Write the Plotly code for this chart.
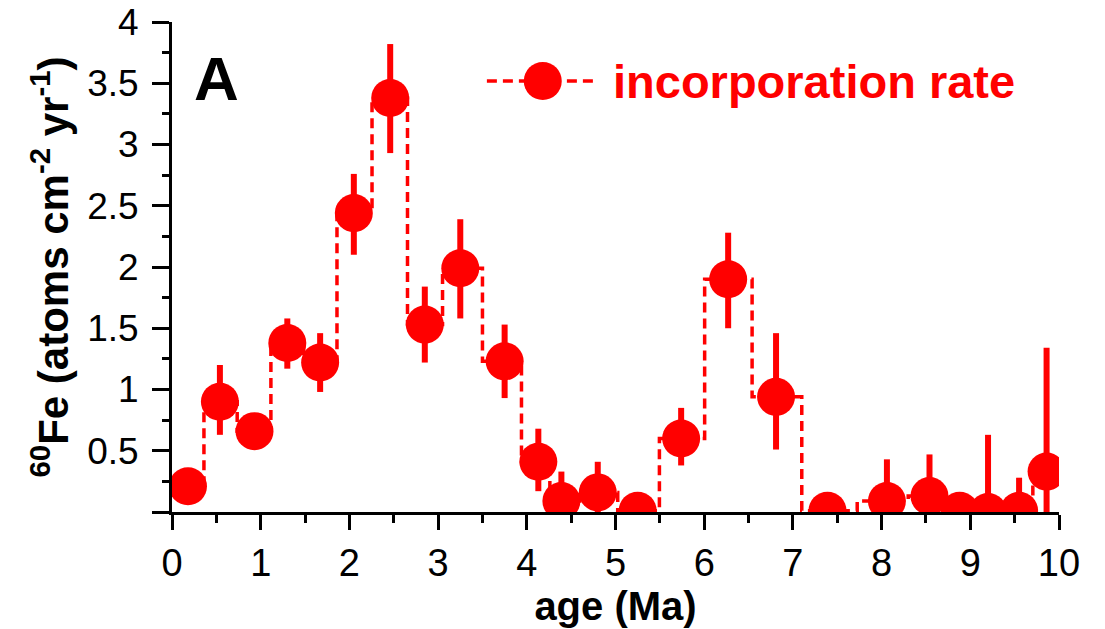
import plotly.graph_objects as go

# ---- data ----
age = [0.18, 0.54, 0.93, 1.30, 1.67, 2.05, 2.46, 2.85, 3.25, 3.75, 4.13, 4.39,
       4.80, 5.25, 5.74, 6.27, 6.81, 7.39, 8.06, 8.54, 8.88, 9.20, 9.55, 9.86]
rate = [0.21, 0.90, 0.66, 1.38, 1.22, 2.44, 3.38, 1.53, 1.99, 1.23, 0.41, 0.09,
        0.16, 0.01, 0.60, 1.90, 0.94, 0.01, 0.09, 0.13, 0.01, 0.00, 0.01, 0.33]
err_plus = [0.05, 0.30, 0.06, 0.20, 0.24, 0.32, 0.44, 0.31, 0.40, 0.30, 0.27, 0.24,
            0.25, 0.05, 0.25, 0.38, 0.52, 0.05, 0.34, 0.34, 0.05, 0.63, 0.27, 1.01]
err_minus = [0.05, 0.27, 0.06, 0.21, 0.24, 0.34, 0.45, 0.31, 0.41, 0.30, 0.24, 0.09,
             0.16, 0.01, 0.22, 0.40, 0.43, 0.01, 0.09, 0.13, 0.01, 0.00, 0.01, 0.33]

x_ticks = list(range(0, 11))
x_ticklabels = [str(v) for v in x_ticks]
y_ticks = [0, 0.5, 1, 1.5, 2, 2.5, 3, 3.5, 4]
y_ticklabels = ["", "0.5", "1", "1.5", "2", "2.5", "3", "3.5", "4"]

series_name = "incorporation rate"
panel_label = "A"

RED = "#ff0000"
FONT = "Liberation Sans, Arial, sans-serif"

fig = go.Figure()

# step (histogram-like) dashed line
fig.add_trace(go.Scatter(
    x=age, y=rate, mode="lines", line=dict(color=RED, width=3.5, dash="10px,6px", shape="hvh"),
    showlegend=False, hoverinfo="skip"))

# markers with error bars
fig.add_trace(go.Scatter(
    x=age, y=rate, mode="markers", name=series_name,
    marker=dict(color=RED, size=38, symbol="circle", line=dict(width=0)),
    error_y=dict(type="data", symmetric=False, array=err_plus, arrayminus=err_minus,
                 color=RED, thickness=6, width=0),
    showlegend=False))

axis_common = dict(showline=True, linecolor="black", linewidth=3, showgrid=False,
                   zeroline=False, tickcolor="black", tickwidth=3, automargin=False)

fig.update_layout(
    width=1105, height=629,
    margin=dict(l=172, r=46, t=22, b=117),
    paper_bgcolor="white", plot_bgcolor="white",
    font=dict(family=FONT, color="black"),
    xaxis=dict(range=[0, 10], tickvals=x_ticks, ticktext=x_ticklabels, ticks="outside",
               ticklen=15, tickfont=dict(size=38, family=FONT),
               minor=dict(dtick=0.5, ticks="outside", ticklen=8, tickwidth=3, tickcolor="black"),
               title=dict(text="<b>age (Ma)</b>", font=dict(size=40, family=FONT), standoff=4),
               **axis_common),
    yaxis=dict(range=[0, 4], tickvals=y_ticks, ticktext=y_ticklabels, ticks="outside",
               ticklen=17, ticklabelstandoff=6, tickfont=dict(size=37, family=FONT),
               minor=dict(dtick=0.25, ticks="outside", ticklen=7, tickwidth=3, tickcolor="black"),
               title=dict(text="<b><sup>60</sup>Fe (atoms cm<sup>-2</sup> yr<sup>-1</sup>)</b>",
                          font=dict(size=42, family=FONT), standoff=6),
               **axis_common),
    xaxis2=dict(range=[0, 10], overlaying="x", side="top", anchor="y", dtick=1, tick0=0,
                ticks="inside", ticklen=15, showticklabels=False, **axis_common),
    xaxis3=dict(range=[0, 10], overlaying="x", side="bottom", anchor="y", dtick=1, tick0=0,
                ticks="inside", ticklen=15, showticklabels=False, **axis_common),
    yaxis2=dict(range=[0, 4], overlaying="y", side="right", anchor="x", dtick=0.25, tick0=0,
                ticks="inside", ticklen=16, showticklabels=False, **axis_common),
    showlegend=False,
)

# panel label
fig.add_annotation(text=f"<b>{panel_label}</b>", xref="x domain", yref="y domain",
                   x=0.05, y=0.885, showarrow=False, font=dict(size=62, color="black", family=FONT),
                   xanchor="center", yanchor="middle")

# manual legend (line + big marker + text)
fig.add_shape(type="line", xref="paper", yref="paper", x0=0.355, x1=0.480, y0=0.8795, y1=0.8795,
              line=dict(color=RED, width=3.5, dash="10px,6px"))
fig.add_shape(type="circle", xref="paper", yref="paper", xsizemode="pixel", ysizemode="pixel",
              xanchor=0.418, yanchor=0.8795, x0=-19, x1=19, y0=-19, y1=19,
              fillcolor=RED, line=dict(width=0))
fig.add_annotation(text=f"<b>{series_name}</b>", xref="paper", yref="paper", x=0.495, y=0.878,
                   showarrow=False, xanchor="left", yanchor="middle",
                   font=dict(size=47, color=RED, family=FONT))

fig.write_html("out.html")
